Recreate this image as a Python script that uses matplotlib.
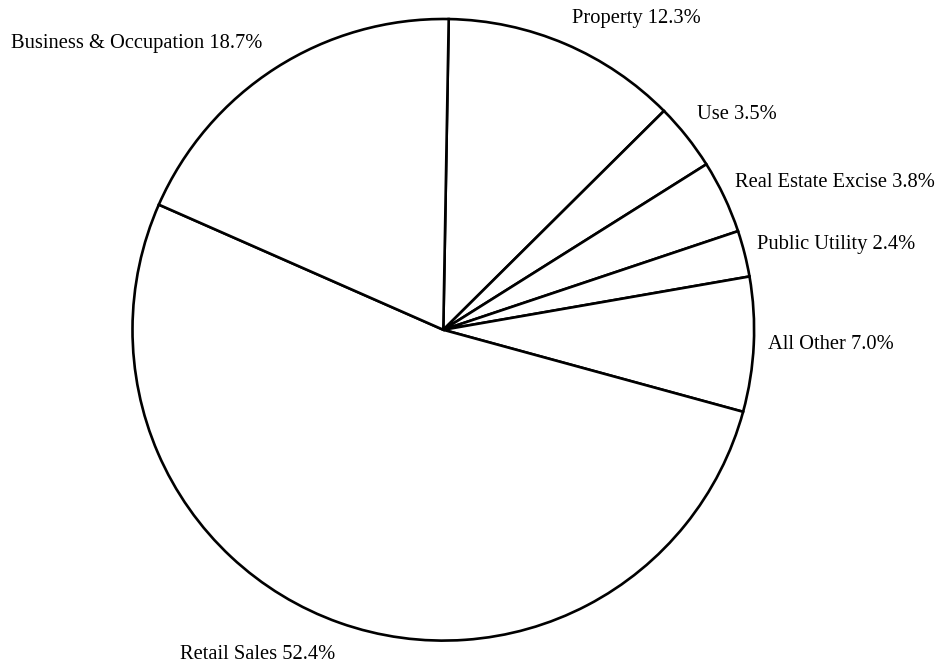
import matplotlib
matplotlib.use("Agg")
import matplotlib.pyplot as plt

categories = ["Property", "Use", "Real Estate Excise", "Public Utility",
              "All Other", "Retail Sales", "Business & Occupation"]
shares = [12.3, 3.5, 3.8, 2.4, 7.0, 52.4, 18.7]
labels = [f"{c} {v:.1f}%" for c, v in zip(categories, shares)]

# label layout (pixel anchors: left x, baseline y)
label_px = [(572, 23), (697, 119), (735, 187), (757, 249),
            (768, 349), (180, 659), (11, 48)]

W, H = 941, 664
fig = plt.figure(figsize=(W / 100, H / 100), dpi=100)
cx, cy, r = 443.3, 329.8, 310.8
m = 1.03
ax = fig.add_axes([(cx - r * m) / W, (H - cy - r * m) / H, 2 * r * m / W, 2 * r * m / H])
ax.pie(shares, startangle=89, counterclock=False, radius=1,
       colors=["white"] * len(shares),
       wedgeprops=dict(edgecolor="black", linewidth=1.9))
ax.set_xlim(-m, m)
ax.set_ylim(-m, m)
ax.set_aspect("equal")
ax.axis("off")

for lab, (px, py) in zip(labels, label_px):
    fig.text(px / W, 1 - py / H, lab, ha="left", va="baseline",
             fontsize=14.8, family="Liberation Serif", color="black")

fig.savefig("out.png", dpi=100, facecolor="white")
